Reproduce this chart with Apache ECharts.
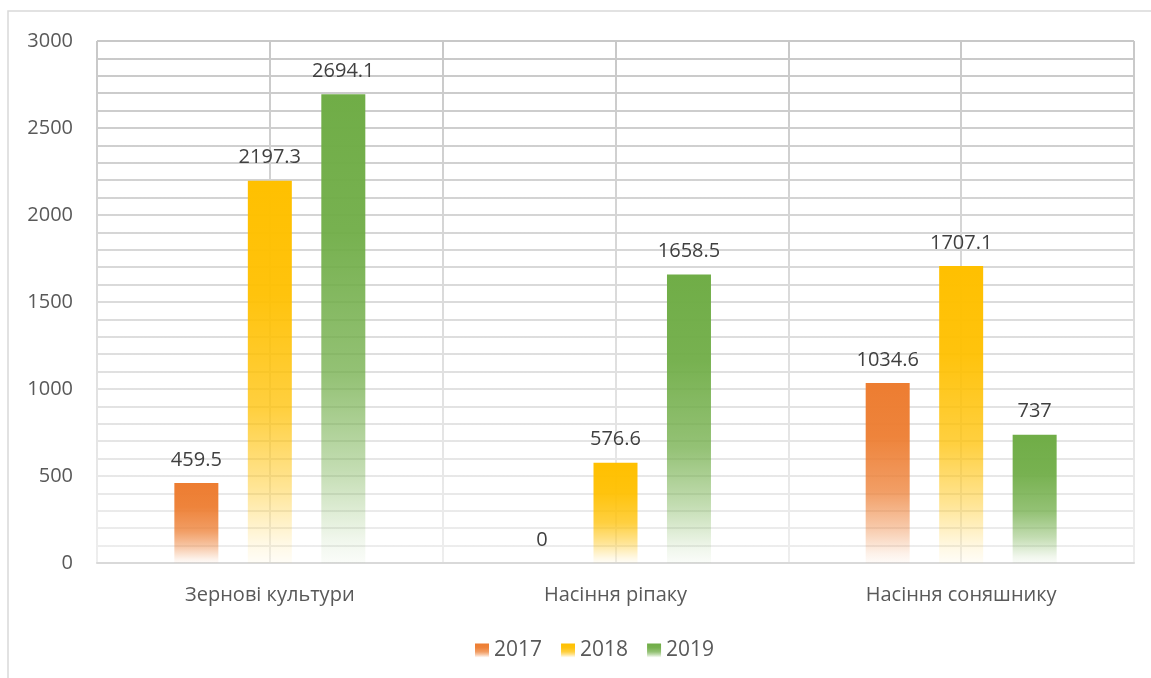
<!DOCTYPE html>
<html>
<head>
<meta charset="utf-8">
<script src="https://cdn.jsdelivr.net/npm/echarts@6/dist/echarts.min.js"></script>
<style>html,body{margin:0;padding:0;background:#fff;}#c{width:1151px;height:678px;}</style>
</head>
<body>
<div id="c"></div>
<script>
const categories = ['Зернові культури', 'Насіння ріпаку', 'Насіння соняшнику'];
const seriesNames = ['2017', '2018', '2019'];
const values2017 = [459.5, 0, 1034.6];
const values2018 = [2197.3, 576.6, 1707.1];
const values2019 = [2694.1, 1658.5, 737];
const seriesColors = [[237,125,49],[255,192,0],[112,173,71]];
const FONT = '"Open Sans", "Noto Sans", sans-serif';

function grad(c){
  const r = 'rgba(' + c[0] + ',' + c[1] + ',' + c[2] + ',';
  return new echarts.graphic.LinearGradient(0,0,0,1,[
    {offset:0, color:r+'1)'},
    {offset:0.3, color:r+'0.95)'},
    {offset:0.6, color:r+'0.75)'},
    {offset:0.8, color:r+'0.42)'},
    {offset:0.95, color:r+'0.1)'},
    {offset:1, color:r+'0.03)'}
  ]);
}
const gridGrad = new echarts.graphic.LinearGradient(0,41,0,563,[
  {offset:0, color:'#c8c8c8'},
  {offset:1, color:'#eeeeee'}
], true);

const chart = echarts.init(document.getElementById('c'), null, {renderer:'canvas'});
const dataSets = [values2017, values2018, values2019];
chart.setOption({
  animation:false,
  backgroundColor:'#fff',
  textStyle:{fontFamily:FONT},
  graphic:[{type:'rect', shape:{x:8, y:11, width:1300, height:800}, style:{fill:'none', stroke:'#d9d9d9', lineWidth:1.5}, z:-10}],
  grid:{left:97, right:17, top:41, bottom:115},
  legend:{
    left:470, top:635, itemWidth:14, itemHeight:14, itemGap:19,
    textStyle:{fontSize:21, color:'#595959', fontFamily:FONT},
    data:seriesNames, icon:'rect'
  },
  xAxis:[{
    type:'category', data:categories,
    axisLine:{show:true, lineStyle:{color:'#d9d9d9', width:2}},
    axisTick:{show:false},
    axisLabel:{fontSize:20, color:'#595959', margin:22, fontFamily:FONT},
    splitLine:{show:false}
  },{
    type:'value', min:0, max:6, interval:1, position:'top',
    axisLine:{show:false}, axisTick:{show:false}, axisLabel:{show:false},
    splitLine:{show:true, lineStyle:{color:gridGrad, width:2}}
  }],
  yAxis:{
    type:'value', min:0, max:3000, interval:500,
    axisLine:{show:false}, axisTick:{show:false},
    axisLabel:{fontSize:20, color:'#595959', margin:24, fontFamily:FONT, formatter:function(v){return String(v);}},
    splitLine:{show:true, lineStyle:{color:gridGrad, width:2}},
    minorTick:{show:false, splitNumber:5},
    minorSplitLine:{show:true, lineStyle:{color:gridGrad, width:2}}
  },
  series: seriesNames.map((n,i)=>({
    name:n, type:'bar', xAxisIndex:0, data:dataSets[i],
    barWidth:44, barGap:'67%',
    itemStyle:{color:grad(seriesColors[i])},
    label:{show:true, position:'top', distance:13, fontSize:20, color:'#404040', fontFamily:FONT}
  }))
});
</script>
</body>
</html>
